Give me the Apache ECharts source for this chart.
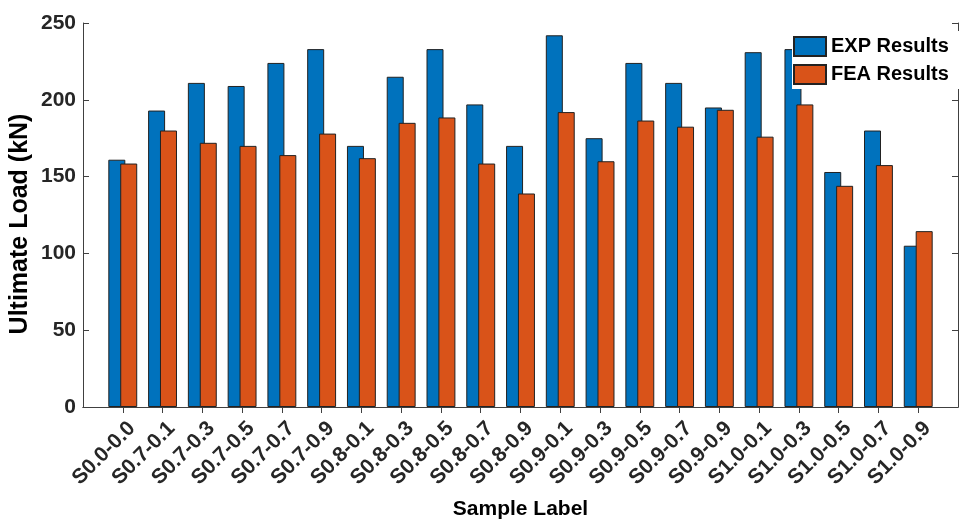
<!DOCTYPE html>
<html>
<head>
<meta charset="utf-8">
<script src="https://cdn.jsdelivr.net/npm/echarts@6/dist/echarts.min.js"></script>
<style>
html,body{margin:0;padding:0;background:#fff;}
#chart{width:960px;height:519px;}
</style>
</head>
<body>
<div id="chart"></div>
<script>
const categories = ['S0.0-0.0','S0.7-0.1','S0.7-0.3','S0.7-0.5','S0.7-0.7','S0.7-0.9','S0.8-0.1','S0.8-0.3','S0.8-0.5','S0.8-0.7','S0.8-0.9','S0.9-0.1','S0.9-0.3','S0.9-0.5','S0.9-0.7','S0.9-0.9','S1.0-0.1','S1.0-0.3','S1.0-0.5','S1.0-0.7','S1.0-0.9'];
const expResults = [161, 193, 211, 209, 224, 233, 170, 215, 233, 197, 170, 242, 175, 224, 211, 195, 231, 233, 153, 180, 105];
const feaResults = [158.5, 180, 172, 170, 164, 178, 162, 185, 188.5, 158.5, 139, 192, 160, 186.5, 182.5, 193.5, 176, 197, 144, 157.5, 114.5];
const yTicks = [0, 50, 100, 150, 200, 250];

// pad with an empty slot at each end (axis range 0..22 like the original)
const cats = [''].concat(categories, ['']);
const expPad = [null].concat(expResults, [null]);
const feaPad = [null].concat(feaResults, [null]);
const last = cats.length - 1;
const tickShow = (i) => i > 0 && i < last;

const axisCol = '#404040';
const txtCol = '#262626';
const FONT = '"Liberation Sans", Arial, sans-serif';

const chart = echarts.init(document.getElementById('chart'), null, {renderer: 'canvas'});
chart.setOption({
  animation: false,
  backgroundColor: '#ffffff',
  textStyle: {fontFamily: FONT},
  grid: {left: 83, right: 2, top: 23, bottom: 112, containLabel: false, outerBoundsMode: 'none'},
  legend: {
    data: ['EXP Results', 'FEA Results'],
    orient: 'vertical',
    left: 792, top: 31,
    padding: [5, 12, 4, 1],
    backgroundColor: '#ffffff',
    itemWidth: 32, itemHeight: 19, itemGap: 7,
    icon: 'rect',
    textStyle: {fontFamily: FONT, fontSize: 20, fontWeight: 'bold', color: '#000'}
  },
  xAxis: [{
    type: 'category',
    data: cats,
    boundaryGap: false,
    position: 'bottom',
    axisLine: {show: true, lineStyle: {color: axisCol, width: 1}},
    axisTick: {show: true, inside: true, length: 6, interval: tickShow, lineStyle: {color: axisCol}},
    axisLabel: {
      interval: 0, rotate: 45, margin: 9,
      align: 'right', verticalAlign: 'top', lineHeight: 26,
      fontFamily: FONT, fontSize: 21, fontWeight: 'bold', color: txtCol
    },
    splitLine: {show: false},
    name: 'Sample Label',
    nameLocation: 'middle',
    nameGap: 92,
    nameMoveOverlap: false,
    nameTextStyle: {fontFamily: FONT, fontSize: 21, fontWeight: 'bold', color: '#000'}
  }, {
    type: 'category',
    data: cats,
    boundaryGap: false,
    position: 'top',
    axisLine: {show: true, lineStyle: {color: axisCol, width: 1}},
    axisTick: {show: true, inside: true, length: 6, interval: tickShow, lineStyle: {color: axisCol}},
    axisLabel: {show: false},
    splitLine: {show: false}
  }],
  yAxis: [{
    type: 'value',
    min: yTicks[0], max: yTicks[yTicks.length - 1], interval: 50,
    position: 'left',
    axisLine: {show: true, lineStyle: {color: axisCol, width: 1}},
    axisTick: {show: true, inside: true, length: 6, lineStyle: {color: axisCol}},
    axisLabel: {margin: 7, fontFamily: FONT, fontSize: 21, fontWeight: 'bold', color: txtCol},
    splitLine: {show: false},
    name: 'Ultimate Load (kN)',
    nameLocation: 'middle',
    nameGap: 50,
    nameMoveOverlap: false,
    nameTextStyle: {fontFamily: FONT, fontSize: 25, fontWeight: 'bold', color: '#000', padding: [0, 18, 0, 0]}
  }, {
    type: 'value',
    min: yTicks[0], max: yTicks[yTicks.length - 1], interval: 50,
    position: 'right',
    axisLine: {show: true, lineStyle: {color: axisCol, width: 1}},
    axisTick: {show: true, inside: true, length: 6, lineStyle: {color: axisCol}},
    axisLabel: {show: false},
    splitLine: {show: false}
  }],
  series: [{
    name: 'EXP Results',
    type: 'bar',
    xAxisIndex: 0, yAxisIndex: 0,
    data: expPad,
    barWidth: 17,
    barGap: '-30%',
    itemStyle: {color: '#0072BD', borderColor: '#222', borderWidth: 1}
  }, {
    name: 'FEA Results',
    type: 'bar',
    xAxisIndex: 0, yAxisIndex: 0,
    data: feaPad,
    barWidth: 17,
    barGap: '-30%',
    itemStyle: {color: '#D95319', borderColor: '#222', borderWidth: 1}
  }]
});
</script>
</body>
</html>
